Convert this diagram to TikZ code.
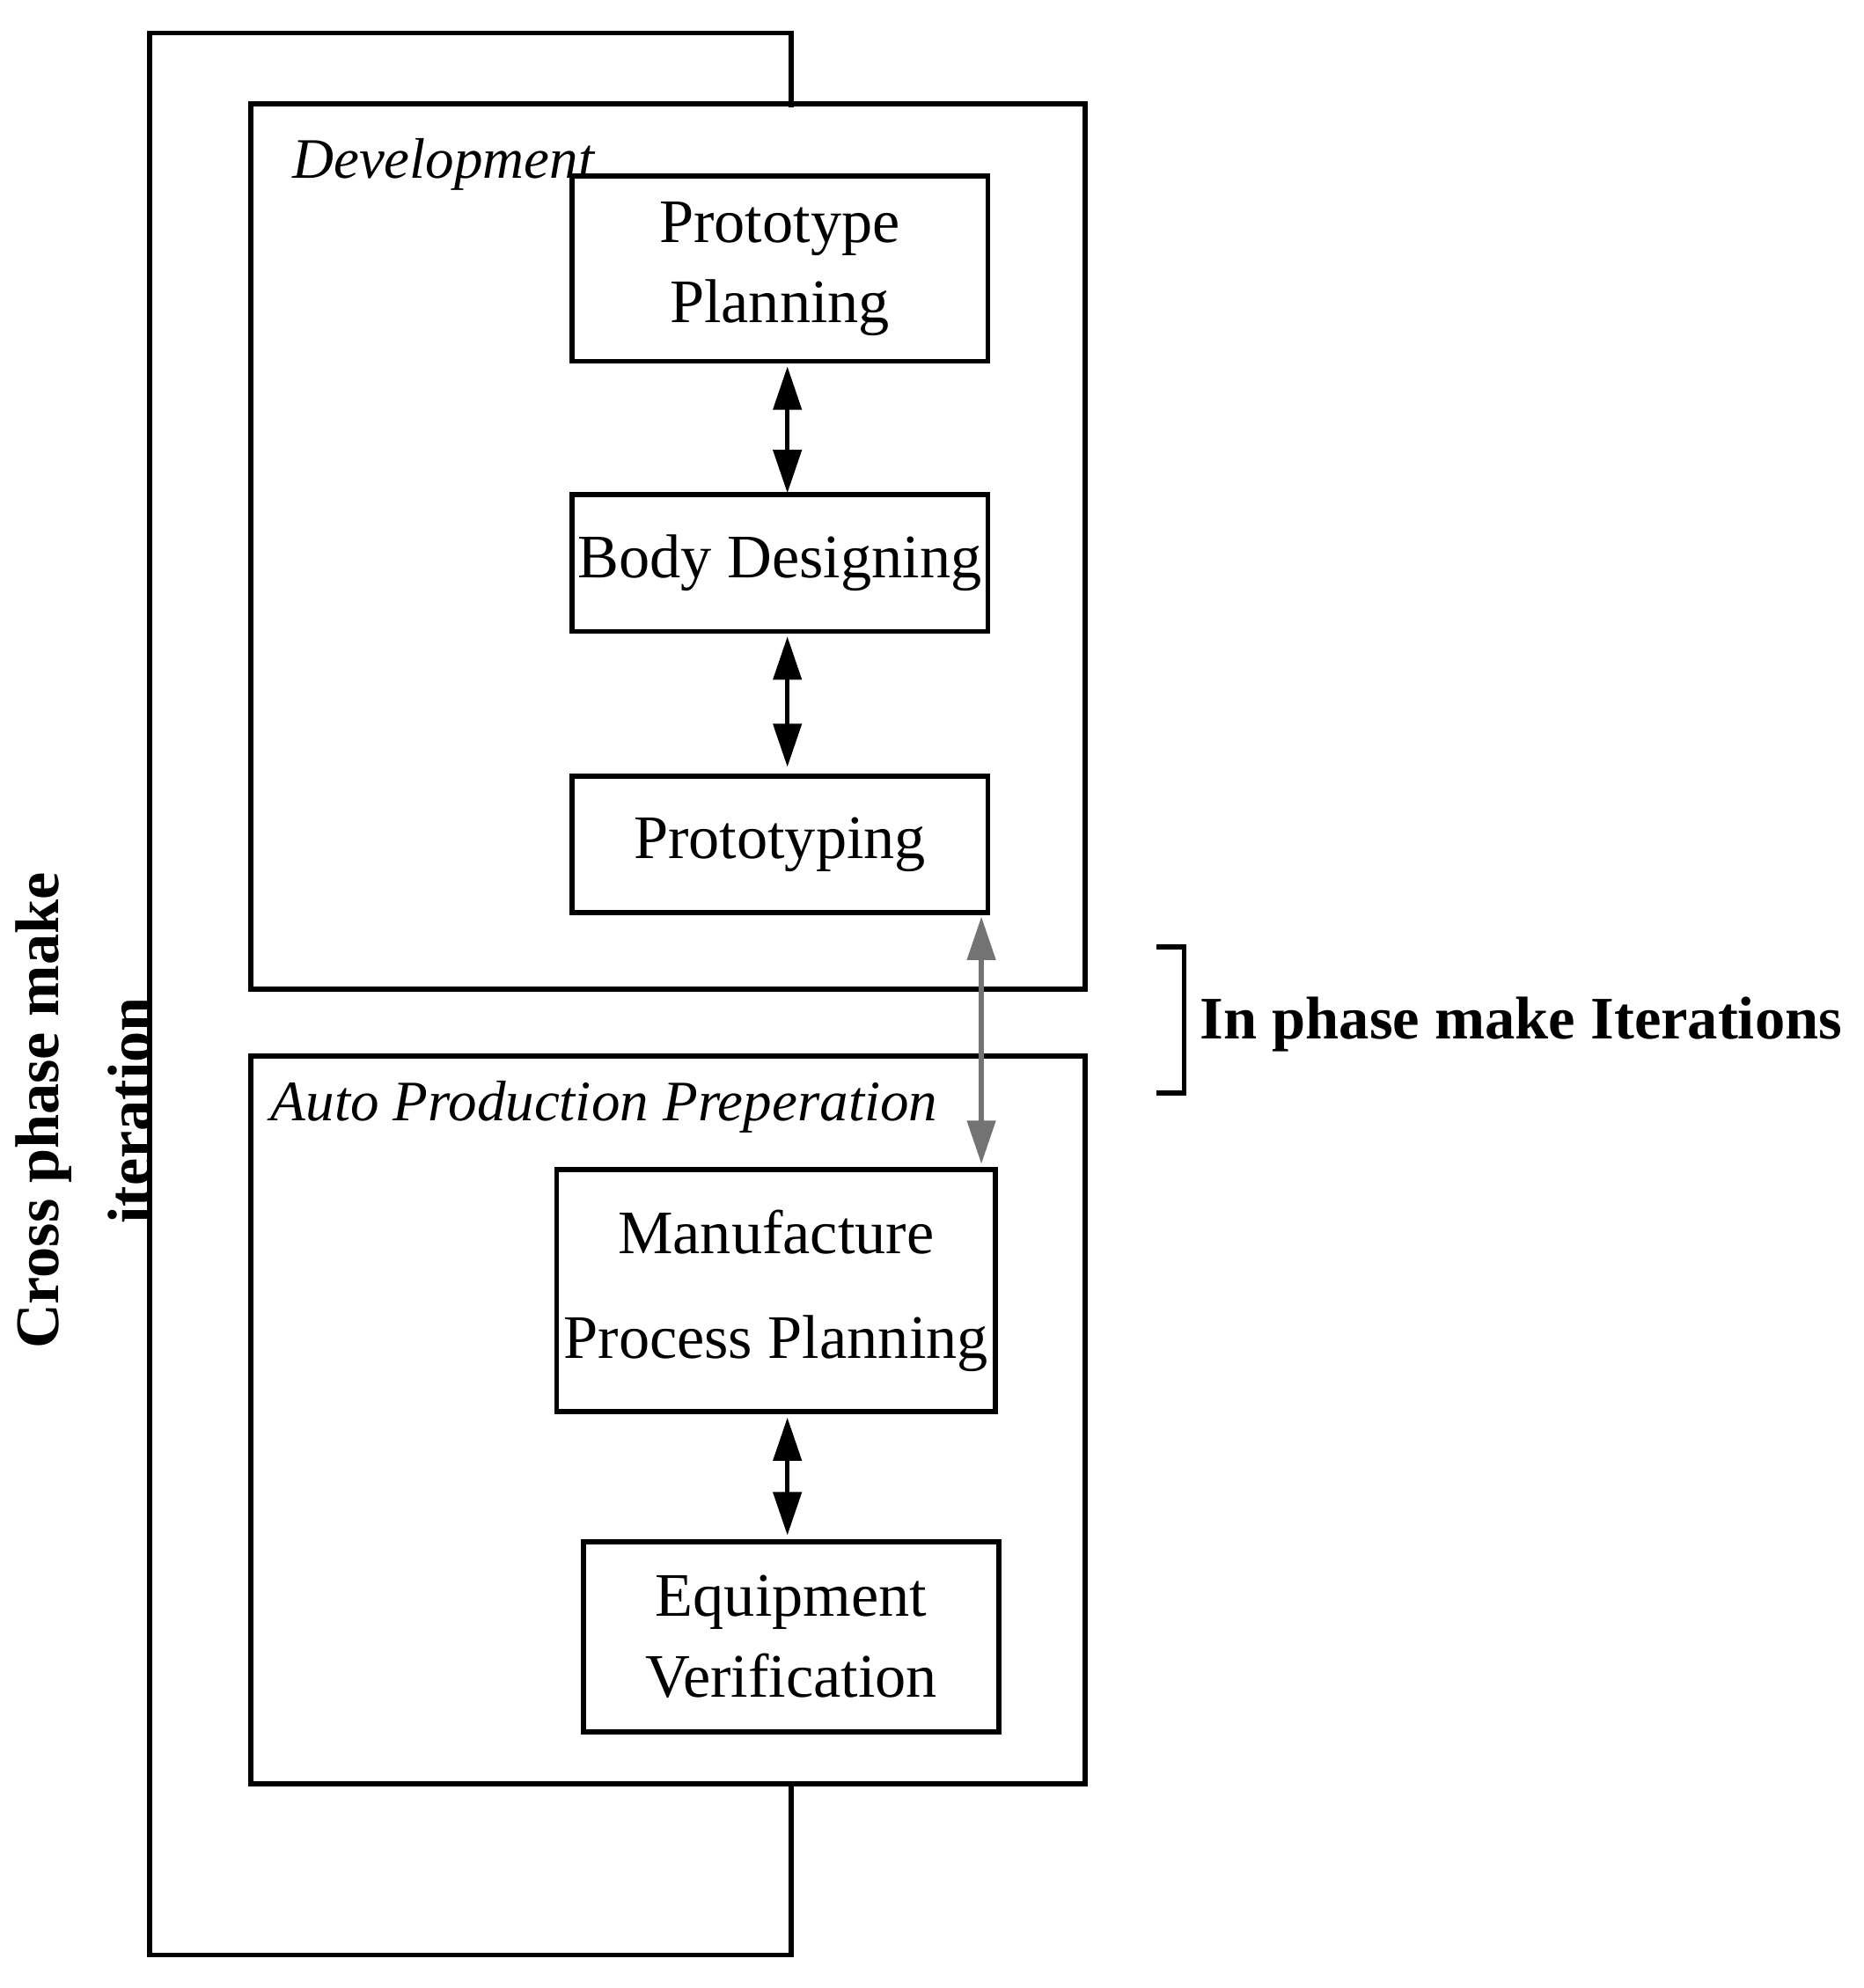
\documentclass[tikz,border=0pt]{standalone}
\usepackage{fontspec}
\setmainfont{Liberation Serif}
\usetikzlibrary{arrows.meta}
\begin{document}
\begin{tikzpicture}[x=0.0144cm,y=-0.0144cm,
  box/.style={draw,line width=1.6pt,inner sep=0pt},
  lbl/.style={font=\fontsize{20}{24}\selectfont,align=center},
  arr/.style={line width=1.6pt,{Triangle[length=14pt,width=9pt]}-{Triangle[length=14pt,width=9pt]}}]
\useasboundingbox (0,0) rectangle (1470,1568);
\draw[line width=1.6pt] (624,85) -- (624,26) -- (118,26) -- (118,1542) -- (624,1542) -- (624,1408);
\node[box,minimum width=658*0.0144cm,minimum height=698*0.0144cm] (dev) at (527,431) {};
\node[box,minimum width=658*0.0144cm,minimum height=574*0.0144cm] (auto) at (527,1120) {};
\node[anchor=west,font=\fontsize{18.5}{22}\selectfont\itshape] (devl) at (222,130) {Development};
\node[anchor=west,font=\fontsize{18.5}{22}\selectfont\itshape] (autol) at (205,873) {Auto Production Preperation};
\node[box,lbl,minimum width=328*0.0144cm,minimum height=146*0.0144cm] (pp) at (615,212) {Prototype\\[2pt]Planning};
\node[box,lbl,minimum width=328*0.0144cm,minimum height=108*0.0144cm] (bd) at (615,444) {Body Designing};
\node[box,lbl,minimum width=328*0.0144cm,minimum height=108*0.0144cm] (pt) at (615,666) {Prototyping};
\node[box,lbl,minimum width=346*0.0144cm,minimum height=191*0.0144cm] (mp) at (612,1018) {Manufacture\\[10pt]Process Planning};
\node[box,lbl,minimum width=328*0.0144cm,minimum height=150*0.0144cm] (ev) at (624,1291) {Equipment\\[2pt]Verification};
\draw[arr] (621,289) -- (621,389);
\draw[arr] (621,502) -- (621,605);
\draw[arr] (621,1118) -- (621,1211);
\coordinate (la) at (774,723);
\coordinate (lb) at (774,918);
\draw[arr,draw=black!55] (la) -- (lb);
\draw[line width=1.6pt] (912,747) -- (934,747) -- (934,862) -- (912,862);
\node[anchor=west,font=\fontsize{19.5}{24}\selectfont\bfseries] (inp) at (938,808) {In phase make Iterations};
\node[rotate=90,align=center,font=\fontsize{20}{30}\selectfont\bfseries] (cross) at (66,876) {Cross phase make\\iteration};
\end{tikzpicture}
\end{document}
